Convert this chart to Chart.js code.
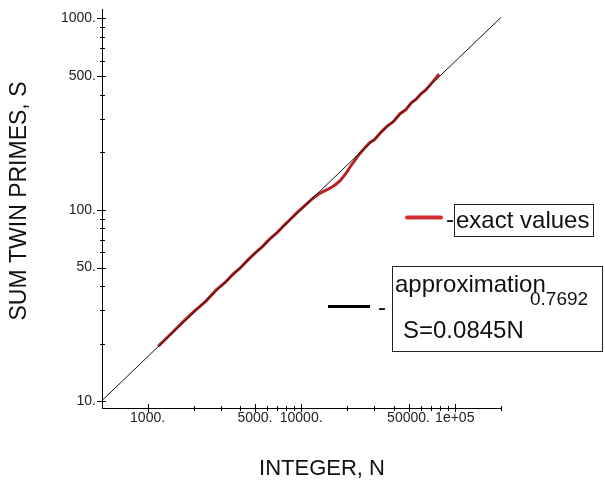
<!DOCTYPE html>
<html>
<head>
<meta charset="utf-8">
<script src="https://cdn.jsdelivr.net/npm/chart.js@4.4.1/dist/chart.umd.min.js"></script>
<style>
  html, body { margin: 0; padding: 0; background: #fff; }
  #chart { display: block; }
</style>
</head>
<body>
<canvas id="chart" width="605" height="485"></canvas>
<script>
// exact values
const exactN = [1170, 1400, 1700, 2000, 2400, 2800, 3200, 3600, 4000, 4500, 5000, 5600, 6200, 7000,
  7800, 8600, 9400, 10000, 11000, 12000, 13000, 14000, 15000, 16000, 17000, 18000, 19000, 20000,
  21000, 22000, 24000, 26000, 28000, 30000, 33000, 36000, 40000, 44000, 48000, 52000, 56000,
  60000, 65000, 70000, 75000, 79000];
const exactS = [19.4, 22.3, 26.0, 29.4, 33.4, 38.2, 41.8, 46.2, 49.6, 54.8, 59.4, 64.3, 70.1, 76.3,
  83.6, 90.2, 96.8, 101.2, 108.6, 115.5, 121.0, 125.0, 128.5, 132.0, 137.0, 142.5, 150.5, 159.0,
  169.5, 178.0, 196.0, 211.0, 225.0, 232.0, 254.0, 272.0, 290.0, 318.0, 333.0, 362.0, 378.0,
  403.0, 424.0, 455.0, 486.0, 512.0];

// approximation line (straight in log-log)
const approxN = [505, 10000, 200000];
const approxS = [10.1, 100.8, 1012];

const xTicks = [1000, 2000, 3000, 4000, 5000, 6000, 7000, 8000, 9000, 10000, 20000, 30000, 40000,
  50000, 60000, 70000, 80000, 90000, 100000, 200000];
const xLabelValues = [1000, 5000, 10000, 50000, 100000];
const xLabelText = ["1000.", "5000.", "10000.", "50000.", "1e+05"];

const yTicks = [10, 20, 30, 40, 50, 60, 70, 80, 90, 100, 200, 300, 400, 500, 600, 700, 800, 900, 1000];
const yLabelValues = [10, 50, 100, 500, 1000];
const yLabelText = ["10.", "50.", "100.", "500.", "1000."];

const legendExact = "exact values";
const legendApprox = "approximation";
const legendFormula = "S=0.0845N";
const legendPower = "0.7692";
const xTitle = "INTEGER, N";
const yTitle = "SUM TWIN PRIMES, S";

const TEXT_FONT = "'Liberation Sans', Arial, sans-serif";

function labelFor(values, texts, v) {
  const i = values.findIndex((t) => Math.abs(t - v) / t < 1e-6);
  return i >= 0 ? texts[i] : "";
}

// tick marks that cross the axis line, long on labelled ticks
const crossTicks = {
  id: "crossTicks",
  afterDraw(chart) {
    const { ctx, chartArea, scales } = chart;
    ctx.save();
    ctx.strokeStyle = "#000";
    ctx.lineWidth = 1;
    ctx.beginPath();
    xTicks.forEach((v) => {
      const px = Math.round(scales.x.getPixelForValue(v)) + 0.5;
      const major = xLabelValues.includes(v);
      const y0 = chartArea.bottom;
      ctx.moveTo(px, y0 - (major ? 4 : 2));
      ctx.lineTo(px, y0 + (major ? 4 : 3));
    });
    yTicks.forEach((v) => {
      const py = Math.round(scales.y.getPixelForValue(v)) + 0.5;
      const major = yLabelValues.includes(v);
      const x0 = chartArea.left;
      ctx.moveTo(x0 - (major ? 5 : 2), py);
      ctx.lineTo(x0 + (major ? 4 : 3), py);
    });
    ctx.stroke();
    ctx.restore();
  },
};

// axis titles and the boxed legend
const annotations = {
  id: "annotations",
  afterDraw(chart) {
    const { ctx } = chart;
    ctx.save();
    ctx.fillStyle = "#111";
    ctx.textAlign = "center";
    ctx.textBaseline = "middle";
    ctx.font = "22px " + TEXT_FONT;
    ctx.fillText(xTitle, 322, 469);
    ctx.font = "23px " + TEXT_FONT;
    ctx.translate(20, 201);
    ctx.rotate(-Math.PI / 2);
    ctx.fillText(yTitle, 0, 0);
    ctx.restore();

    ctx.save();
    ctx.textAlign = "left";
    ctx.textBaseline = "alphabetic";
    ctx.fillStyle = "#111";

    // exact values entry
    ctx.strokeStyle = "#d03030";
    ctx.lineWidth = 4;
    ctx.lineCap = "round";
    ctx.beginPath();
    ctx.moveTo(407, 217.5);
    ctx.lineTo(441, 217.5);
    ctx.stroke();
    ctx.lineCap = "butt";
    ctx.strokeStyle = "#222";
    ctx.lineWidth = 1;
    ctx.strokeRect(454.5, 204.5, 139, 32);
    ctx.font = "24px " + TEXT_FONT;
    ctx.fillText("-", 446, 227);
    ctx.fillText(legendExact, 456, 228);

    // approximation entry
    ctx.strokeStyle = "#000";
    ctx.lineWidth = 3;
    ctx.beginPath();
    ctx.moveTo(328, 306.5);
    ctx.lineTo(370, 306.5);
    ctx.stroke();
    ctx.lineWidth = 1;
    ctx.strokeStyle = "#222";
    ctx.strokeRect(392.5, 266.5, 210, 85);
    ctx.fillText("-", 378, 315);
    ctx.fillText(legendApprox, 395, 292);
    ctx.fillText(legendFormula, 403, 338);
    ctx.font = "19px " + TEXT_FONT;
    ctx.fillText(legendPower, 530, 305);
    ctx.restore();
  },
};

const ctx = document.getElementById("chart").getContext("2d");
new Chart(ctx, {
  type: "line",
  data: {
    datasets: [
      {
        label: "approximation",
        data: approxN.map((n, i) => ({ x: n, y: approxS[i] })),
        borderColor: "#111",
        borderWidth: 1,
        pointRadius: 0,
        tension: 0,
      },
      {
        label: "exact values",
        data: exactN.map((n, i) => ({ x: n, y: exactS[i] })),
        borderColor: "#b82424",
        borderWidth: 3,
        pointRadius: 0,
        tension: 0,
      },
    ],
  },
  options: {
    responsive: false,
    animation: false,
    layout: { padding: { left: 0, top: 8, right: 104, bottom: 0 } },
    plugins: {
      legend: { display: false },
      tooltip: { enabled: false },
    },
    scales: {
      x: {
        type: "logarithmic",
        min: 505,
        max: 200000,
        afterBuildTicks: (scale) => {
          scale.ticks = xTicks.map((v) => ({ value: v }));
        },
        afterFit: (scale) => {
          scale.height = 77;
        },
        grid: { display: true, drawOnChartArea: false, color: "rgba(0,0,0,0)", tickLength: 2 },
        border: { display: true, color: "#000", width: 1 },
        ticks: {
          autoSkip: false,
          maxRotation: 0,
          padding: 0,
          color: "#222",
          font: { family: TEXT_FONT, size: 14 },
          callback: (v) => labelFor(xLabelValues, xLabelText, v),
        },
      },
      y: {
        type: "logarithmic",
        min: 9.24,
        max: 1114,
        afterBuildTicks: (scale) => {
          scale.ticks = yTicks.map((v) => ({ value: v }));
        },
        afterFit: (scale) => {
          scale.width = 102;
        },
        grid: { display: true, drawOnChartArea: false, color: "rgba(0,0,0,0)", tickLength: 5 },
        border: { display: true, color: "#000", width: 1 },
        ticks: {
          autoSkip: false,
          padding: 1,
          color: "#222",
          font: { family: TEXT_FONT, size: 14 },
          callback: (v) => labelFor(yLabelValues, yLabelText, v),
        },
      },
    },
  },
  plugins: [crossTicks, annotations],
});
</script>
</body>
</html>
